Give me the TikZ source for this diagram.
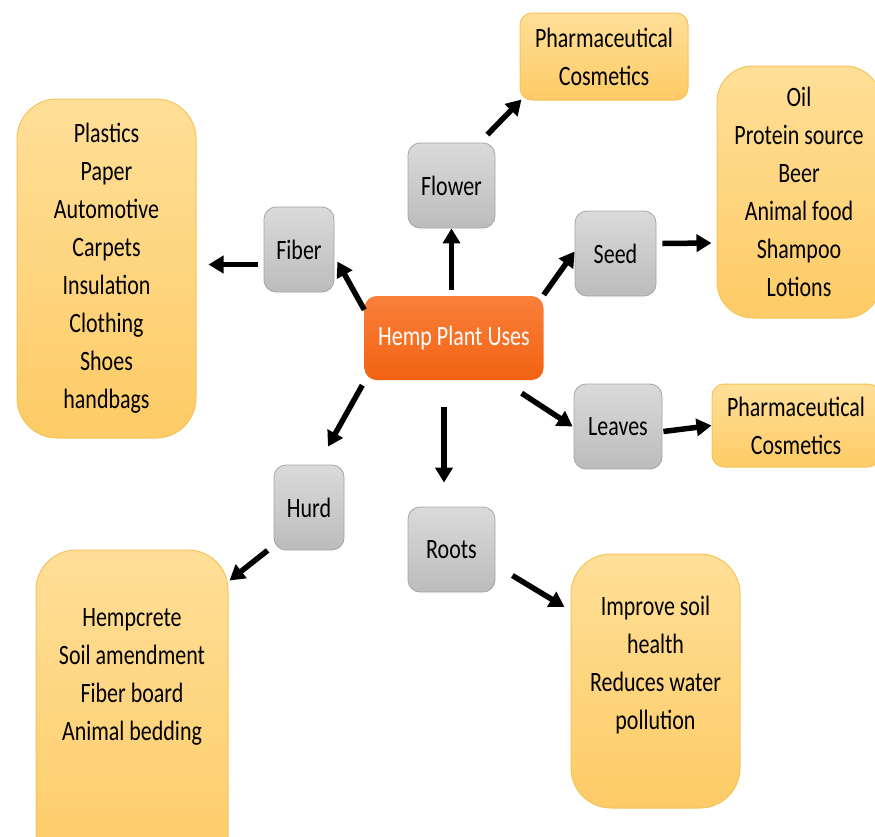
\documentclass[tikz,border=0pt]{standalone}
\usepackage{fontspec}
\setmainfont{Carlito}[FakeStretch=0.785]
\usetikzlibrary{arrows.meta,calc}
\definecolor{grayTop}{RGB}{218,218,218}
\definecolor{grayBot}{RGB}{188,188,188}
\definecolor{grayLine}{RGB}{165,165,165}
\definecolor{hempTop}{RGB}{250,128,58}
\definecolor{hempBot}{RGB}{242,98,18}
\definecolor{useTop}{RGB}{255,223,152}
\definecolor{useBot}{RGB}{253,203,102}
\definecolor{useLine}{RGB}{245,196,90}
\begin{document}
\begin{tikzpicture}[x=1pt,y=-1pt,
  every node/.style={font=\fontsize{28}{38}\selectfont, align=center, inner sep=0pt},
  part/.style={rounded corners=12pt, draw=grayLine, line width=0.8pt,
    top color=grayTop, bottom color=grayBot},
  use/.style={draw=useLine, line width=1pt, top color=useTop, bottom color=useBot},
  arr/.style={line width=5.5pt, -{Triangle[length=15pt,width=17pt]}}
]
  \useasboundingbox (0,0) rectangle (875,836);
  \clip (0,0) rectangle (875,836);

  \node[minimum width=179pt, minimum height=84pt, rounded corners=12pt,
    top color=hempTop, bottom color=hempBot, text=white] (hemp) at (454,338) {Hemp Plant Uses};

  \node[part, minimum width=87pt, minimum height=85pt] (flower) at (451.5,185.5) {Flower};
  \node[part, minimum width=70pt, minimum height=85pt] (fiber) at (299,249.5) {Fiber};
  \node[part, minimum width=81pt, minimum height=85pt] (seed) at (615.5,253.5) {Seed};
  \node[part, minimum width=88pt, minimum height=85pt] (leaves) at (618,426.5) {Leaves};
  \node[part, minimum width=70pt, minimum height=85pt] (hurd) at (309,507.5) {Hurd};
  \node[part, minimum width=87pt, minimum height=85pt] (roots) at (451.5,549.5) {Roots};

  \node[use, rounded corners=12pt, minimum width=168pt, minimum height=87pt] (flowerUse) at (604,56.5)
    {Pharmaceutical\\Cosmetics};
  \node[use, rounded corners=36pt, minimum width=164pt, minimum height=252pt] (seedUse) at (799,192)
    {Oil\\Protein source\\Beer\\Animal food\\Shampoo\\Lotions};
  \node[use, rounded corners=12pt, minimum width=168pt, minimum height=83pt] (leavesUse) at (796,425.5)
    {Pharmaceutical\\Cosmetics};
  \node[use, rounded corners=40pt, minimum width=179pt, minimum height=339pt] (fiberUse) at (106.5,268.5)
    {Plastics\\Paper\\Automotive\\Carpets\\Insulation\\Clothing\\Shoes\\handbags};
  \node[use, rounded corners=40pt, minimum width=192pt, minimum height=330pt] (hurdUse) at (132,715) {};
  \node (hurdText) at (132,677) {Hempcrete\\Soil amendment\\Fiber board\\Animal bedding};
  \node[use, rounded corners=40pt, minimum width=169pt, minimum height=254pt] (rootsUse) at (655.5,681) {};
  \node (rootsText) at (655.5,665) {Improve soil\\health\\Reduces water\\pollution};

  \draw[arr] ([yshift=6pt]flower.south |- hemp.north) -- (flower.south);
  \draw[arr] ($(flower.north east)+(-8,-8)$) -- ($(flowerUse.south west)+(2,-1)$);
  \draw[arr] ($(hemp.north west)+(0,14)$) -- ($(fiber.east)+(3,12)$);
  \draw[arr] ($(fiber.west)+(-6,15)$) -- ($(fiberUse.east)+(12,-4)$);
  \draw[arr] ($(hemp.north east)+(0,-1)$) -- ($(seed.west)+(0,-2)$);
  \draw[arr] ($(seed.east)+(6,-10)$) -- ($(seedUse.west)+(-5,51)$);
  \draw[arr] ($(hemp.south east)+(-22,13)$) -- ($(leaves.west)+(-1,0)$);
  \draw[arr] ($(leaves.east)+(1,5)$) -- (leavesUse.west);
  \draw[arr] ($(hemp.south west)+(-2,5)$) -- ($(hurd.north)+(19,-18)$);
  \draw[arr] ($(hemp.south)+(-10,27)$) -- ($(roots.north)+(-7.5,-24)$);
  \draw[arr] ($(hurd.south west)+(-6,0)$) -- ($(hurdUse.north east)+(1,31)$);
  \draw[arr] ($(roots.east)+(17,26)$) -- ($(rootsUse.west)+(-6,-74)$);
\end{tikzpicture}
\end{document}
